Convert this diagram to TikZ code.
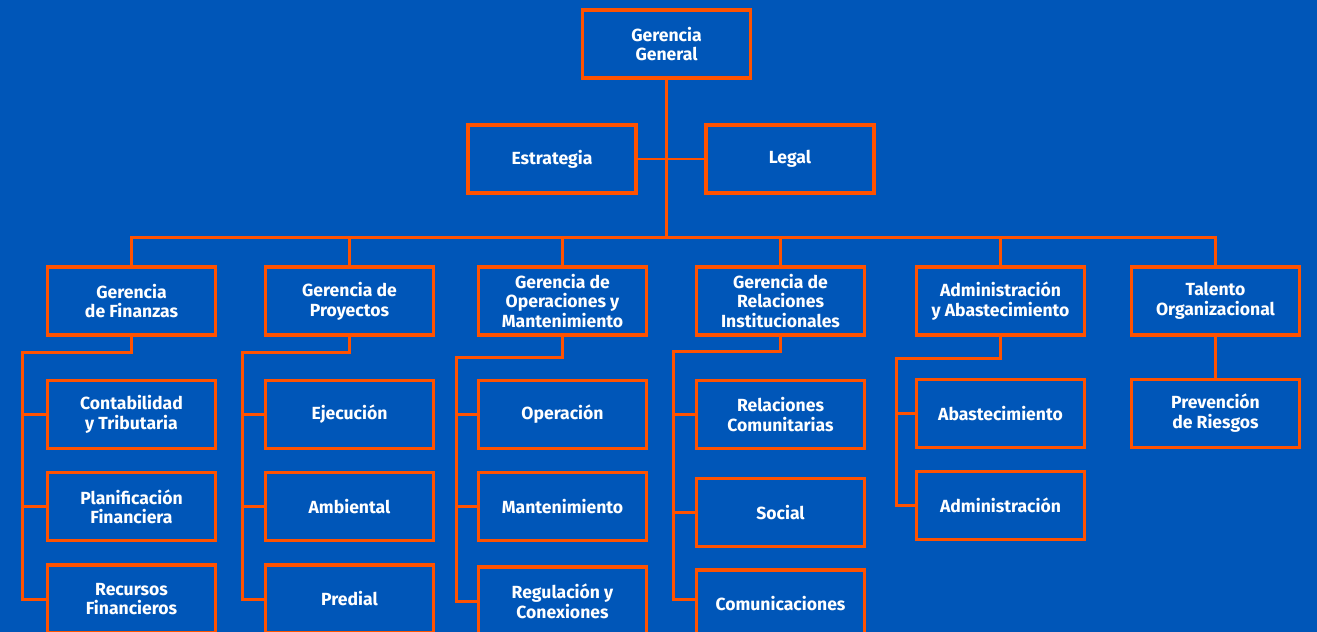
\documentclass[tikz,border=0pt]{standalone}
\usepackage{fontspec}
\setmainfont{Fira Sans}
\usetikzlibrary{positioning}
\definecolor{FondoAzul}{RGB}{0,86,184}
\definecolor{LineaNaranja}{RGB}{255,82,0}

\begin{document}
\begin{tikzpicture}[
  node distance=4.2mm,
  every node/.style={font=\fontsize{10}{11.2}\selectfont\bfseries, text=white},
  area/.style={draw=LineaNaranja, line width=1.9pt, minimum width=3.36cm,
               minimum height=1.36cm, align=center, inner sep=2pt},
  link/.style={draw=LineaNaranja, line width=1.7pt}
]
\useasboundingbox (0,0) rectangle (26.34,-12.64);
\fill[FondoAzul] (0,0) rectangle (26.34,-12.64);
\clip (0,0) rectangle (26.34,-12.64);

% direccion
\node[area] (gg)  at (13.33,-0.88) {Gerencia\\General};
\node[area] (est) at (11.04,-3.18) {Estrategia};
\node[area] (leg) at (15.80,-3.18) {Legal};

% gerencias
\node[area] (fin) at (2.63,-6.02)  {Gerencia\\de Finanzas};
\node[area] (pro) at (6.99,-6.02)  {Gerencia de\\Proyectos};
\node[area] (ope) at (11.25,-6.02) {Gerencia de\\Operaciones y\\Mantenimiento};
\node[area] (rel) at (15.61,-6.02) {Gerencia de\\Relaciones\\Institucionales};
\node[area] (adm) at (20.01,-6.02) {Administración\\y Abastecimiento};
\node[area] (tal) at (24.31,-6.02) {Talento\\Organizacional};

% areas
\node[area, below=8.4mm of fin] (con) {Contabilidad\\y Tributaria};
\node[area, below=of con]       (pla) {Planificación\\Financiera};
\node[area, below=of pla]       (rec) {Recursos\\Financieros};
\node[area, below=8.4mm of pro] (eje) {Ejecución};
\node[area, below=of eje]       (amb) {Ambiental};
\node[area, below=of amb]       (pre) {Predial};
\node[area, below=8.4mm of ope] (opr) {Operación};
\node[area, below=of opr]       (man) {Mantenimiento};
\node[area, below=4.6mm of man] (reg) {Regulación y\\Conexiones};
\node[area, below=8.4mm of rel] (rco) {Relaciones\\Comunitarias};
\node[area, below=5.4mm of rco] (soc) {Social};
\node[area, below=4mm of soc]   (com) {Comunicaciones};
\node[area, below=8.2mm of adm] (aba) {Abastecimiento};
\node[area, below=of aba]       (admi) {Administración};
\node[area, below=8.2mm of tal] (prv) {Prevención\\de Riesgos};

% tronco y barra
\draw[link] (gg.south) -- ++(0,-3.16) coordinate (hub);
\draw[link] (est) -- (leg);
\draw[link] (fin.north) |- (hub) -| (tal.north);
\draw[link] (pro.north) -- (pro.north |- hub);
\draw[link] (ope.north) -- (ope.north |- hub);
\draw[link] (rel.north) -- (rel.north |- hub);
\draw[link] (adm.north) -- (adm.north |- hub);

% ramas
\draw[link] (fin.south) -- ++(0,-3.2mm) -| ([xshift=-4.6mm]rec.west) -- (rec.west);
\draw[link] ([xshift=-4.6mm]con.west) -- (con.west);
\draw[link] ([xshift=-4.6mm]pla.west) -- (pla.west);
\draw[link] (pro.south) -- ++(0,-3.2mm) -| ([xshift=-4.2mm]pre.west) -- (pre.west);
\draw[link] ([xshift=-4.2mm]eje.west) -- (eje.west);
\draw[link] ([xshift=-4.2mm]amb.west) -- (amb.west);
\draw[link] (ope.south) -- ++(0,-4.2mm) -| ([xshift=-4mm]reg.west) -- (reg.west);
\draw[link] ([xshift=-4mm]opr.west) -- (opr.west);
\draw[link] ([xshift=-4mm]man.west) -- (man.west);
\draw[link] (rel.south) -- ++(0,-3mm) -| ([xshift=-4.2mm,yshift=1mm]com.west) -- ([yshift=1mm]com.west);
\draw[link] ([xshift=-4.2mm]rco.west) -- (rco.west);
\draw[link] ([xshift=-4.2mm]soc.west) -- (soc.west);
\draw[link] (adm.south) -- ++(0,-4.4mm) -| ([xshift=-3.6mm]admi.west) -- (admi.west);
\draw[link] ([xshift=-3.6mm]aba.west) -- (aba.west);
\draw[link] (tal) -- (prv);
\end{tikzpicture}
\end{document}
